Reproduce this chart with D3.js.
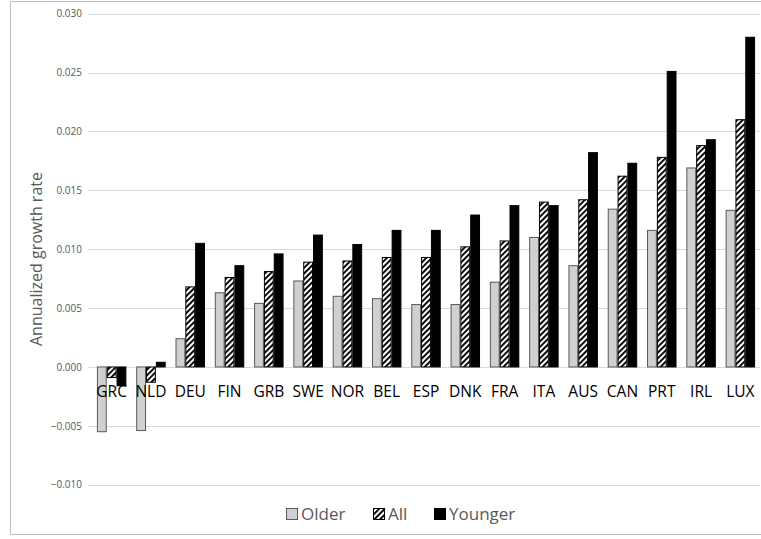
<!DOCTYPE html>
<html><head><meta charset="utf-8">
<script src="https://cdn.jsdelivr.net/npm/d3@7"></script>
<style>body{margin:0;background:#fff;}svg{display:block;font-family:"Open Sans","Lato",sans-serif;}</style>
</head><body><svg id="c" width="761" height="539"></svg>
<script>
const categories = ["GRC","NLD","DEU","FIN","GRB","SWE","NOR","BEL","ESP","DNK","FRA","ITA","AUS","CAN","PRT","IRL","LUX"];
const seriesNames = ["Older","All","Younger"];
const older   = [-0.0055,-0.0054,0.0024,0.0063,0.0054,0.0073,0.0060,0.0058,0.0053,0.0053,0.0072,0.0110,0.0086,0.0134,0.0116,0.0169,0.0133];
const all     = [-0.0009,-0.0013,0.0068,0.0076,0.0081,0.0089,0.0090,0.0093,0.0093,0.0102,0.0107,0.0140,0.0142,0.0162,0.0178,0.0188,0.0210];
const younger = [-0.0016,0.0004,0.0105,0.0086,0.0096,0.0112,0.0104,0.0116,0.0116,0.0129,0.0137,0.0137,0.0182,0.0173,0.0251,0.0193,0.0280];
const yTicks = [-0.010,-0.005,0.000,0.005,0.010,0.015,0.020,0.025,0.030];
const yTitle = "Annualized growth rate";

const svg = d3.select("#c");
const defs = svg.append("defs");
const pat = defs.append("pattern").attr("id","hatch").attr("patternUnits","userSpaceOnUse")
  .attr("width",4).attr("height",4).attr("patternTransform","rotate(45)");
pat.append("rect").attr("width",4).attr("height",4).attr("fill","#fff");
pat.append("rect").attr("x",0).attr("y",0).attr("width",1.9).attr("height",4).attr("fill","#000");

// outer border
svg.append("rect").attr("x",10.5).attr("y",1.5).attr("width",760).attr("height",533)
  .attr("fill","none").attr("stroke","#bfbfbf").attr("stroke-width",1);

const x0 = d3.scaleBand().domain(categories).range([92,760]).paddingInner(0.25).paddingOuter(0.125);
const x1 = d3.scaleBand().domain(seriesNames).range([0,x0.bandwidth()]);
const y = d3.scaleLinear().domain([-0.010,0.030]).range([484.7,13.7]);

// gridlines
svg.append("g").selectAll("line").data(yTicks).join("line")
  .attr("x1",88).attr("x2",760).attr("y1",d=>Math.round(y(d))+0.5).attr("y2",d=>Math.round(y(d))+0.5)
  .attr("stroke","#d9d9d9").attr("stroke-width",1);

// y axis labels
const yAxis = d3.axisLeft(y).tickValues(yTicks).tickFormat(d3.format(".3f")).tickSize(0).tickPadding(0);
const ga = svg.append("g").attr("transform","translate(82,0)").call(yAxis);
ga.select(".domain").remove();
ga.selectAll("text").attr("fill","#595959").style("font-size","10px").style("font-family","'Open Sans',sans-serif");

svg.append("text").attr("transform","translate(42,259) rotate(-90)").attr("text-anchor","middle")
  .attr("fill","#595959").style("font-size","16px").text(yTitle);

const data = categories.map((c,i)=>({c, vals:[older[i],all[i],younger[i]]}));
const fills = {Older:"#d0d0d0", All:"url(#hatch)", Younger:"#000"};
const strokes = {Older:"#595959", All:"#000", Younger:"#000"};

const groups = svg.append("g").selectAll("g").data(data).join("g")
  .attr("transform",d=>`translate(${x0(d.c)},0)`);
groups.selectAll("rect").data(d=>d.vals.map((v,k)=>({s:seriesNames[k],v}))).join("rect")
  .attr("x",d=>x1(d.s)+0.5).attr("width",x1.bandwidth()-1)
  .attr("y",d=>Math.min(y(d.v),y(0))).attr("height",d=>Math.abs(y(d.v)-y(0)))
  .attr("fill",d=>fills[d.s]).attr("stroke",d=>strokes[d.s]).attr("stroke-width",1);

// category labels
svg.append("g").selectAll("text").data(categories).join("text")
  .attr("x",d=>x0(d)+x0.bandwidth()/2).attr("y",397).attr("text-anchor","middle")
  .attr("fill","#000").style("font-size","15.5px").text(d=>d);

// legend
const legX = [286,373,434];
const lg = svg.append("g").selectAll("g").data(seriesNames).join("g")
  .attr("transform",(d,i)=>`translate(${legX[i]},508)`);
lg.append("rect").attr("x",0.5).attr("y",0.5).attr("width",11).attr("height",11)
  .attr("fill",d=>fills[d]).attr("stroke",d=>strokes[d]);
lg.append("text").attr("x",15).attr("y",12).attr("fill","#595959").style("font-size","17px").text(d=>d);
</script></body></html>
